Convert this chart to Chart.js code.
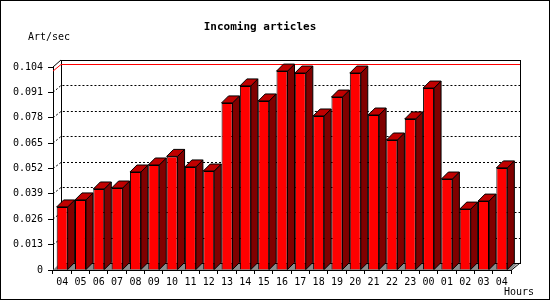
<!DOCTYPE html>
<html>
<head>
<meta charset="utf-8">
<script src="https://cdn.jsdelivr.net/npm/chart.js@4"></script>
<style>
html,body{margin:0;padding:0;background:#fff}
</style>
</head>
<body>
<canvas id="myChart" width="550" height="300"></canvas>
<script>
let hours = ["04","05","06","07","08","09","10","11","12","13","14","15","16","17","18","19","20","21","22","23","00","01","02","03","04"];
let artPerSec = [0.0323,0.0359,0.0415,0.0420,0.0502,0.0538,0.0582,0.0528,0.0507,0.0856,0.0943,0.0866,0.1019,0.1009,0.0789,0.0886,0.1009,0.0794,0.0666,0.0774,0.0932,0.0466,0.0312,0.0353,0.0523];
let yTicks = [0,0.013,0.026,0.039,0.052,0.065,0.078,0.091,0.104];

const depth = 7;
const mono = "'DejaVu Sans Mono', 'Liberation Mono', monospace";

let box3d = {
    id: "box3d",
    beforeDatasetsDraw(chart) {
        let {ctx, chartArea: a, scales: {y}} = chart;
        let bl = a.left + 8, br = a.right + 9, bt = a.top - depth, bb = a.bottom - depth;
        ctx.save();
        ctx.fillStyle = "#fff";
        ctx.fillRect(bl, bt, br - bl, bb - bt);
        // floor
        ctx.fillStyle = "#8c8c8c";
        ctx.beginPath();
        ctx.moveTo(a.left, a.bottom);
        ctx.lineTo(a.right, a.bottom);
        ctx.lineTo(a.right + depth, bb);
        ctx.lineTo(a.left + depth, bb);
        ctx.closePath();
        ctx.fill();
        ctx.strokeStyle = "#000";
        ctx.lineWidth = 1;
        ctx.beginPath();
        ctx.moveTo(a.right, a.bottom + 0.5);
        ctx.lineTo(a.right + depth + 2, bb);
        ctx.stroke();
        // back panel
        ctx.strokeRect(Math.round(bl) + 0.5, Math.round(bt) + 0.5, Math.round(br - bl), Math.round(bb - bt));
        ctx.beginPath();
        ctx.moveTo(a.left, a.top);
        ctx.lineTo(bl, bt);
        ctx.stroke();
        // grid on the back plane
        ctx.setLineDash([2, 2]);
        yTicks.filter(v => v > 0 && v < 0.104).forEach(v => {
            let yf = y.getPixelForValue(v), yb = Math.round(yf - depth) + 0.5;
            ctx.beginPath();
            ctx.moveTo(a.left, yf);
            ctx.lineTo(bl, yb);
            ctx.lineTo(br, yb);
            ctx.stroke();
        });
        ctx.setLineDash([]);
        // max line
        let top = Math.max(...artPerSec);
        let yf = y.getPixelForValue(top), yb = Math.round(yf - depth) + 0.5;
        ctx.strokeStyle = "#ff0000";
        ctx.beginPath();
        ctx.moveTo(a.left, yf);
        ctx.lineTo(bl, yb);
        ctx.lineTo(br, yb);
        ctx.stroke();
        ctx.restore();
    },
    afterDatasetsDraw(chart) {
        let ctx = chart.ctx;
        ctx.save();
        ctx.strokeStyle = "#000";
        ctx.lineWidth = 1;
        chart.getDatasetMeta(0).data.forEach(b => {
            let l = b.x - b.width / 2, r = b.x + b.width / 2, t = b.y, btm = b.base;
            ctx.fillStyle = "#800000";
            ctx.beginPath();
            ctx.moveTo(r, t);
            ctx.lineTo(r + depth, t - depth);
            ctx.lineTo(r + depth, btm - depth);
            ctx.lineTo(r, btm);
            ctx.closePath();
            ctx.fill();
            ctx.stroke();
            ctx.fillStyle = "#c00000";
            ctx.beginPath();
            ctx.moveTo(l, t);
            ctx.lineTo(l + depth, t - depth);
            ctx.lineTo(r + depth, t - depth);
            ctx.lineTo(r, t);
            ctx.closePath();
            ctx.fill();
            ctx.stroke();
        });
        ctx.restore();
    },
    afterDraw(chart) {
        let ctx = chart.ctx;
        ctx.save();
        ctx.fillStyle = "#000";
        ctx.textBaseline = "middle";
        ctx.font = "bold 11px " + mono;
        ctx.textAlign = "center";
        ctx.fillText("Incoming articles", 260, 27);
        ctx.font = "10px " + mono;
        ctx.textAlign = "left";
        ctx.fillText("Art/sec", 28, 37);
        ctx.textAlign = "right";
        ctx.fillText("Hours", 534, 292);
        ctx.strokeStyle = "#000";
        ctx.strokeRect(0.5, 0.5, 549, 299);
        ctx.restore();
    }
};

new Chart(document.getElementById("myChart"), {
    type: "bar",
    data: {
        labels: hours,
        datasets: [{
            label: "Incoming articles",
            data: artPerSec,
            backgroundColor: "#ff0000",
            borderColor: "#000",
            borderWidth: 1,
            barPercentage: 0.6,
            categoryPercentage: 1
        }]
    },
    options: {
        responsive: false,
        animation: false,
        devicePixelRatio: 1,
        layout: {padding: {top: 67, left: 0, right: 39, bottom: 0}},
        plugins: {legend: {display: false}, tooltip: {enabled: false}},
        scales: {
            x: {
                grid: {offset: true, drawOnChartArea: false, tickLength: 4, color: "#000"},
                border: {color: "#000"},
                ticks: {font: {family: mono, size: 10}, color: "#000", padding: 2, maxRotation: 0, autoSkip: false},
                afterFit: s => { s.height = 30; }
            },
            y: {
                min: 0,
                max: 0.104,
                afterBuildTicks: s => { s.ticks = yTicks.map(v => ({value: v})); },
                grid: {drawOnChartArea: false, tickLength: 5, color: "#000"},
                border: {color: "#000"},
                ticks: {
                    font: {family: mono, size: 10},
                    color: "#000",
                    padding: 5,
                    callback: v => v === 0 ? "0" : v.toFixed(3)
                },
                afterFit: s => { s.width = 53; }
            }
        }
    },
    plugins: [box3d]
});
</script>
</body>
</html>
